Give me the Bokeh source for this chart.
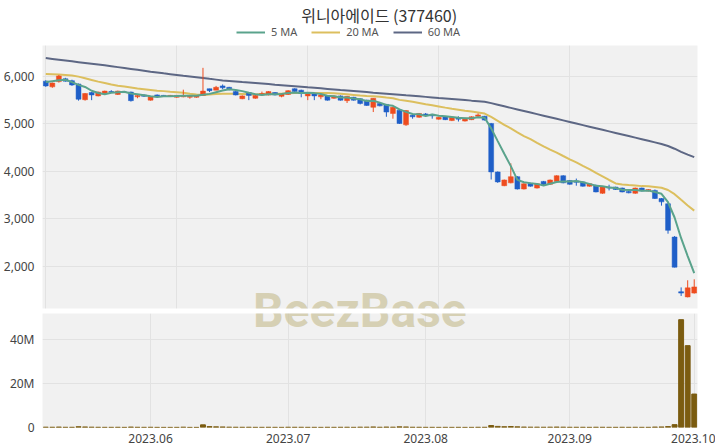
import pandas as pd
from bokeh.plotting import figure
from bokeh.layouts import column
from bokeh.models import (ColumnDataSource, FixedTicker, NumeralTickFormatter, Range1d,
                          Label, Legend, LegendItem, Grid)
from bokeh.embed import file_html
from bokeh.resources import INLINE

# ---------------- data ----------------
holidays = ["2023-05-29", "2023-06-06", "2023-08-15", "2023-09-28", "2023-09-29",
            "2023-10-02", "2023-10-03"]
dates = [d for d in pd.bdate_range("2023-05-09", "2023-10-04")
         if d.strftime("%Y-%m-%d") not in holidays]

opens = [5900, 5780, 5890, 5950, 5910, 5840, 5510, 5660, 5590, 5640,
         5680, 5620, 5670, 5670, 5570, 5610, 5500, 5610, 5600, 5590,
         5560, 5570, 5560, 5560, 5600, 5740, 5710, 5800, 5770, 5680,
         5530, 5660, 5540, 5610, 5610, 5660, 5580, 5620, 5740, 5710,
         5590, 5630, 5570, 5590, 5540, 5590, 5490, 5560, 5530, 5500,
         5350, 5430, 5410, 5220, 5290, 4980, 5180, 5140, 5210, 5200,
         5100, 5150, 5070, 5130, 5060, 5090, 5160, 5160, 5010, 3990,
         3700, 3760, 3890, 3630, 3750, 3650, 3790, 3730, 3790, 3910,
         3810, 3800, 3780, 3690, 3710, 3540, 3670, 3670, 3650, 3580,
         3540, 3650, 3590, 3600, 3430, 3320, 2620, 1470, 1360, 1440]
highs = [5920, 5870, 6030, 5970, 5930, 5850, 5650, 5670, 5680, 5700,
         5710, 5700, 5680, 5680, 5610, 5620, 5580, 5620, 5610, 5610,
         5610, 5720, 5600, 5600, 6180, 5740, 5800, 5830, 5780, 5690,
         5600, 5660, 5610, 5680, 5690, 5670, 5640, 5710, 5750, 5720,
         5640, 5640, 5620, 5600, 5600, 5600, 5590, 5570, 5540, 5510,
         5540, 5440, 5420, 5360, 5300, 5290, 5190, 5230, 5230, 5210,
         5150, 5160, 5150, 5160, 5130, 5160, 5220, 5170, 5020, 4000,
         3830, 4170, 3900, 3750, 3760, 3750, 3800, 3830, 3920, 3920,
         3820, 3850, 3790, 3750, 3720, 3680, 3720, 3680, 3660, 3590,
         3660, 3660, 3630, 3620, 3440, 3330, 2640, 1560, 1710, 1730]
lows = [5780, 5760, 5870, 5890, 5800, 5490, 5490, 5500, 5580, 5630,
        5660, 5610, 5650, 5470, 5540, 5570, 5490, 5570, 5570, 5570,
        5550, 5560, 5530, 5550, 5590, 5670, 5710, 5730, 5710, 5600,
        5520, 5500, 5530, 5600, 5600, 5600, 5560, 5610, 5670, 5560,
        5500, 5500, 5520, 5490, 5530, 5490, 5440, 5490, 5410, 5380,
        5250, 5370, 5150, 5110, 5000, 4960, 5110, 5130, 5170, 5110,
        5090, 5080, 5060, 5050, 5050, 5080, 5150, 5070, 3830, 3760,
        3690, 3750, 3620, 3620, 3680, 3640, 3710, 3720, 3780, 3750,
        3720, 3700, 3680, 3680, 3560, 3530, 3600, 3610, 3560, 3540,
        3530, 3580, 3580, 3420, 3280, 2690, 1980, 1380, 1350, 1430]
closes = [5800, 5860, 6010, 5900, 5820, 5520, 5640, 5610, 5670, 5690,
          5670, 5690, 5660, 5490, 5600, 5580, 5570, 5580, 5590, 5600,
          5600, 5590, 5590, 5590, 5690, 5700, 5770, 5760, 5720, 5610,
          5590, 5600, 5600, 5640, 5680, 5610, 5630, 5700, 5680, 5640,
          5630, 5590, 5610, 5500, 5590, 5500, 5580, 5500, 5430, 5390,
          5540, 5380, 5250, 5350, 5010, 5280, 5150, 5220, 5180, 5170,
          5140, 5090, 5140, 5100, 5120, 5150, 5190, 5080, 3990, 3780,
          3820, 3890, 3630, 3740, 3690, 3740, 3720, 3820, 3910, 3760,
          3730, 3770, 3690, 3740, 3570, 3670, 3650, 3620, 3570, 3550,
          3650, 3590, 3620, 3430, 3360, 2760, 1985, 1440, 1550, 1570]
volumes_m = [0.15, 0.12, 0.2, 0.1, 0.1, 0.35, 0.25, 0.15, 0.1, 0.08,
             0.08, 0.1, 0.07, 0.2, 0.1, 0.08, 0.1, 0.07, 0.06, 0.06,
             0.07, 0.15, 0.06, 0.06, 1.2, 0.4, 0.3, 0.25, 0.15, 0.12,
             0.1, 0.12, 0.08, 0.08, 0.1, 0.08, 0.07, 0.12, 0.1, 0.1,
             0.08, 0.08, 0.07, 0.1, 0.08, 0.1, 0.12, 0.08, 0.15, 0.15,
             0.25, 0.12, 0.2, 0.15, 0.3, 0.25, 0.12, 0.1, 0.08, 0.08,
             0.07, 0.08, 0.07, 0.08, 0.06, 0.07, 0.1, 0.1, 0.9, 0.5,
             0.35, 0.45, 0.3, 0.2, 0.15, 0.15, 0.12, 0.15, 0.2, 0.15,
             0.1, 0.1, 0.1, 0.08, 0.12, 0.1, 0.08, 0.08, 0.1, 0.08,
             0.1, 0.08, 0.08, 0.2, 0.25, 0.4, 1.3, 49.0, 37.2, 15.2]
ma5 = [5880, 5900, 5920, 5930, 5878, 5822, 5778, 5698, 5652, 5626,
       5656, 5666, 5676, 5640, 5622, 5604, 5580, 5564, 5584, 5584,
       5588, 5592, 5594, 5594, 5612, 5632, 5668, 5702, 5728, 5712,
       5690, 5656, 5624, 5608, 5622, 5626, 5632, 5652, 5660, 5652,
       5656, 5648, 5630, 5594, 5584, 5558, 5556, 5534, 5520, 5480,
       5488, 5448, 5398, 5382, 5306, 5254, 5208, 5202, 5168, 5200,
       5172, 5160, 5144, 5128, 5118, 5120, 5140, 5128, 4906, 4638,
       4372, 4112, 3822, 3772, 3754, 3738, 3704, 3742, 3776, 3790,
       3788, 3798, 3772, 3738, 3700, 3688, 3664, 3650, 3616, 3612,
       3608, 3596, 3596, 3568, 3530, 3352, 3031, 2595, 2219, 1861]
ma20 = [6050, 6045, 6040, 6030, 6020, 5995, 5960, 5925, 5890, 5860,
        5830, 5805, 5785, 5765, 5745, 5730, 5715, 5700, 5690, 5678,
        5668, 5654, 5633, 5618, 5611, 5620, 5627, 5634, 5637, 5633,
        5629, 5624, 5621, 5629, 5633, 5634, 5637, 5643, 5648, 5650,
        5651, 5651, 5652, 5648, 5643, 5633, 5623, 5610, 5596, 5585,
        5582, 5571, 5554, 5539, 5506, 5489, 5465, 5441, 5416, 5393,
        5368, 5343, 5320, 5300, 5276, 5259, 5239, 5218, 5146, 5066,
        4980, 4905, 4824, 4744, 4678, 4601, 4529, 4459, 4396, 4325,
        4255, 4189, 4116, 4048, 3971, 3897, 3820, 3747, 3726, 3714,
        3706, 3691, 3690, 3675, 3658, 3609, 3522, 3403, 3285, 3176]
ma60 = [6385, 6368, 6351, 6334, 6317, 6300, 6283, 6266, 6249, 6232,
        6214, 6195, 6176, 6157, 6138, 6119, 6100, 6082, 6064, 6047,
        6030, 6013, 5997, 5981, 5965, 5948, 5932, 5916, 5905, 5894,
        5882, 5871, 5860, 5849, 5838, 5826, 5815, 5804, 5793, 5782,
        5770, 5759, 5748, 5737, 5726, 5714, 5703, 5692, 5681, 5670,
        5658, 5647, 5636, 5625, 5614, 5602, 5591, 5580, 5569, 5558,
        5546, 5535, 5524, 5513, 5502, 5490, 5479, 5468, 5437, 5404,
        5371, 5338, 5305, 5272, 5239, 5206, 5173, 5140, 5107, 5074,
        5041, 5008, 4975, 4942, 4909, 4876, 4843, 4810, 4777, 4744,
        4711, 4678, 4645, 4612, 4579, 4535, 4478, 4412, 4355, 4300]
price_ticks = [2000, 3000, 4000, 5000, 6000]
volume_ticks = [0, 20_000_000, 40_000_000]
volume_tick_labels = ["0", "20M", "40M"]
title_text = "위니아에이드 (377460)"
legend_labels = ["5 MA", "20 MA", "60 MA"]
watermark_text = "BeezBase"

# ---------------- styling ----------------
UP = "#ee4c1f"
DOWN = "#1f5fc8"
C5 = "#5aa38c"
C20 = "#dcbf5e"
C60 = "#5d6784"
VOL = "#7b5c10"
BG = "#f1f1f1"
GRID = "#e2e2e2"
TICK_FONT = "Noto Sans"
W = 715
LEFT, RIGHT = 38, 18

n = len(closes)
idx = list(range(n))
src = ColumnDataSource(dict(
    x=idx,
    top=[max(o, c) for o, c in zip(opens, closes)],
    bottom=[min(o, c) for o, c in zip(opens, closes)],
    high=highs, low=lows,
    color=[UP if c >= o else DOWN for o, c in zip(opens, closes)],
    vol=[v * 1e6 for v in volumes_m],
    ma5=ma5, ma20=ma20, ma60=ma60,
))

# month tick positions: first trading day of each month after the first
month_pos, month_lab = [], []
for i, d in enumerate(dates):
    if i > 0 and d.month != dates[i - 1].month:
        month_pos.append(i)
        month_lab.append(d.strftime("%Y.%m"))

xr = Range1d(-0.5, n - 0.5)


def style_axis(ax):
    ax.axis_line_color = None
    ax.major_tick_line_color = None
    ax.minor_tick_line_color = None
    ax.major_label_text_font = TICK_FONT
    ax.major_label_text_font_size = "12px"
    ax.major_label_text_color = "#444444"
    ax.major_label_standoff = 2


# ---------------- header: title + legend ----------------
h = figure(width=W, height=45, x_range=Range1d(0, W), y_range=Range1d(45, 0),
           output_backend="svg", toolbar_location=None,
           x_axis_location=None, y_axis_location=None,
           min_border_left=0, min_border_right=0, min_border_top=0, min_border_bottom=0)
h.outline_line_color = None
h.xgrid.visible = False
h.ygrid.visible = False
h.add_layout(Label(x=(LEFT + W - RIGHT) / 2, y=14, text=title_text,
                   text_align="center", text_baseline="middle",
                   text_font="Noto Sans CJK KR", text_font_size="16px", text_color="#333333"))
nan = float("nan")
d5 = h.line(x=[nan], y=[nan], line_color=C5, line_width=2)
d20 = h.line(x=[nan], y=[nan], line_color=C20, line_width=2)
d60 = h.line(x=[nan], y=[nan], line_color=C60, line_width=2)
legend = Legend(items=[LegendItem(label=legend_labels[0], renderers=[d5]),
                       LegendItem(label=legend_labels[1], renderers=[d20]),
                       LegendItem(label=legend_labels[2], renderers=[d60])],
                orientation="horizontal", location=(194, 6),
                glyph_width=29, glyph_height=14, label_height=14, label_standoff=6,
                spacing=14, padding=0, margin=0, border_line_color=None,
                background_fill_alpha=0, label_text_font=TICK_FONT,
                label_text_font_size="11px", label_text_color="#555555")
h.add_layout(legend)

# ---------------- price panel ----------------
p = figure(width=W, height=265, x_range=xr, y_range=Range1d(1116, 6650),
           output_backend="svg", toolbar_location=None, x_axis_location=None,
           min_border_left=LEFT, min_border_right=RIGHT, min_border_top=0, min_border_bottom=2)
p.background_fill_color = BG
p.outline_line_color = None
p.yaxis.ticker = FixedTicker(ticks=price_ticks)
p.yaxis.formatter = NumeralTickFormatter(format="0,0")
p.ygrid.grid_line_color = GRID
p.add_layout(Grid(dimension=0, ticker=FixedTicker(ticks=[0, 20, 40, 60, 80]),
                  grid_line_color=GRID))
style_axis(p.yaxis[0])

p.line("x", "ma60", source=src, line_color=C60, line_width=2)
p.line("x", "ma20", source=src, line_color=C20, line_width=2)
p.segment("x", "high", "x", "low", source=src, line_color="color", line_width=1)
p.vbar(x="x", top="top", bottom="bottom", width=0.75, source=src,
       fill_color="color", line_color="color", line_width=0.5)
p.line("x", "ma5", source=src, line_color=C5, line_width=2)

WM = dict(text=watermark_text, text_align="center", text_baseline="middle",
          text_font="Roboto", text_font_style="bold", text_font_size="48px",
          text_color="#cdc5a0", text_alpha=0.75)
p.add_layout(Label(x=47.95, y=1116 - 2 * 21.04, **WM))

# ---------------- volume panel ----------------
v = figure(width=W, height=135, x_range=xr, y_range=Range1d(0, 51.8e6),
           output_backend="svg", toolbar_location=None,
           min_border_left=LEFT, min_border_right=RIGHT, min_border_top=3, min_border_bottom=18)
v.background_fill_color = BG
v.outline_line_color = None
v.vbar(x="x", top="vol", bottom=0, width=0.75, source=src, fill_color=VOL, line_color=VOL)
v.yaxis.ticker = FixedTicker(ticks=volume_ticks)
v.yaxis.major_label_overrides = {t: l for t, l in zip(volume_ticks, volume_tick_labels)}
v.xaxis.ticker = FixedTicker(ticks=month_pos)
v.xaxis.major_label_overrides = {t: l for t, l in zip(month_pos, month_lab)}
v.xgrid.grid_line_color = GRID
v.ygrid.grid_line_color = GRID
style_axis(v.yaxis[0])
style_axis(v.xaxis[0])
v.xaxis.major_label_standoff = 0
v.add_layout(Label(x=47.95, y=51.8e6 * (1 + 3 / 114), **WM))

layout = column(h, p, v, spacing=0)
open("out.html", "w").write(file_html(layout, INLINE))
